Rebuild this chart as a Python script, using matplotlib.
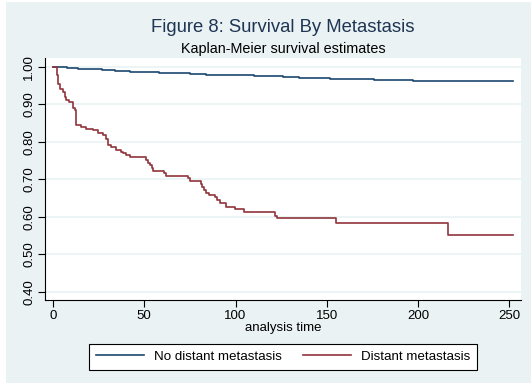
import matplotlib
matplotlib.use("Agg")
import matplotlib.pyplot as plt
from matplotlib.patches import Rectangle
from matplotlib.lines import Line2D

plt.rcParams['font.family'] = ['Liberation Sans', 'DejaVu Sans']

# Kaplan-Meier step data (time, survival)
no_meta_time = [0, 3, 8, 14, 20, 27, 34, 42, 50, 58, 66, 75, 84, 92, 100, 110, 118, 126,
                135, 143, 152, 160, 168, 176, 185, 197, 215, 252]
no_meta_surv = [1.000, 0.998, 0.996, 0.994, 0.993, 0.991, 0.989, 0.987, 0.986, 0.984,
                0.983, 0.981, 0.979, 0.978, 0.977, 0.975, 0.974, 0.973, 0.971, 0.970,
                0.968, 0.967, 0.966, 0.965, 0.964, 0.963, 0.962, 0.962]

meta_time = [0, 2.2, 3.0, 3.7, 5.5, 6.4, 7.3, 9.1, 11.0, 11.3, 11.9, 12.4, 15.5, 18.3, 22.0,
             24.6, 27.4, 29.2, 30.1, 32.0, 34.7, 37.5, 38.3, 39.8, 42.0, 51.0, 52.0, 53.0,
             54.4, 55.0, 61.0, 62.0, 74.0, 75.0, 81.0, 81.8, 82.5, 84.0, 85.4, 88.5, 89.8,
             91.3, 94.6, 99.7, 104.8, 121.4, 122.5, 155.2, 216.3, 252]
meta_surv = [1.000, 0.978, 0.955, 0.940, 0.933, 0.920, 0.911, 0.907, 0.902, 0.889, 0.885,
             0.845, 0.840, 0.834, 0.831, 0.824, 0.818, 0.806, 0.791, 0.787, 0.778, 0.773,
             0.769, 0.764, 0.760, 0.751, 0.744, 0.738, 0.729, 0.723, 0.716, 0.709, 0.702,
             0.695, 0.687, 0.680, 0.671, 0.664, 0.658, 0.653, 0.644, 0.636, 0.627, 0.620,
             0.612, 0.602, 0.596, 0.582, 0.552, 0.552]

x_ticks = [0, 50, 100, 150, 200, 250]
y_ticks = [0.40, 0.50, 0.60, 0.70, 0.80, 0.90, 1.00]
labels = ["No distant metastasis", "Distant metastasis"]
title = "Figure 8: Survival By Metastasis"
subtitle = "Kaplan-Meier survival estimates"
xlabel = "analysis time"

BG = "#EAF2F3"
BLUE = "#1a476f"
RED = "#90353b"

W, H = 531, 385
fig = plt.figure(figsize=(W / 100, H / 100), dpi=100, facecolor="white")
fig.patches.append(Rectangle((6 / W, 2 / H), 1 - 6 / W, (383 - 2) / H,
                             transform=fig.transFigure, facecolor=BG, edgecolor="none", zorder=-10))

ax = fig.add_axes([45 / W, (H - 300) / H, (521 - 45) / W, (300 - 58) / H])
ax.set_zorder(1)
ax.set_facecolor("white")
ax.step(no_meta_time, no_meta_surv, where="post", color=BLUE, lw=1.2)
ax.step(meta_time, meta_surv, where="post", color=RED, lw=1.2)

ax.set_xlim(-4.3, 256.3)
ax.set_ylim(0.378, 1.023)
ax.set_xticks(x_ticks)
ax.set_yticks(y_ticks)
ax.set_yticklabels([f"{v:.2f}" for v in y_ticks], rotation=90, va="center")
ax.tick_params(axis="both", direction="out", length=5, width=0.8, colors="black", labelsize=9.5)
ax.tick_params(axis="y", pad=2)
ax.tick_params(axis="x", pad=2)
for s in ["top", "right"]:
    ax.spines[s].set_visible(False)
for s in ["left", "bottom"]:
    ax.spines[s].set_color("black")
    ax.spines[s].set_linewidth(0.8)
ax.yaxis.grid(True, color=BG, lw=1.2)
ax.set_axisbelow(True)

ax.set_xlabel(xlabel, fontsize=9.5, labelpad=0)

cx = 283 / W
fig.text(cx, 1 - 27 / H, title, ha="center", va="center", fontsize=13.3, color="#1e3553")
fig.text(cx, 1 - 49 / H, subtitle, ha="center", va="center", fontsize=10.4, color="black")

handles = [Line2D([], [], color=BLUE, lw=1.2), Line2D([], [], color=RED, lw=1.2)]
leg = fig.legend(handles, labels, loc="center", bbox_to_anchor=(cx, 1 - 357 / H), ncol=2,
                 fontsize=9.6, frameon=True, fancybox=False, edgecolor="black",
                 handlelength=3.6, columnspacing=1.6, borderpad=0.5, handletextpad=0.75)
leg.get_frame().set_linewidth(0.8)
leg.get_frame().set_facecolor("white")
leg.get_frame().set_alpha(1)

fig.savefig("out.png", dpi=100, facecolor=fig.get_facecolor())
